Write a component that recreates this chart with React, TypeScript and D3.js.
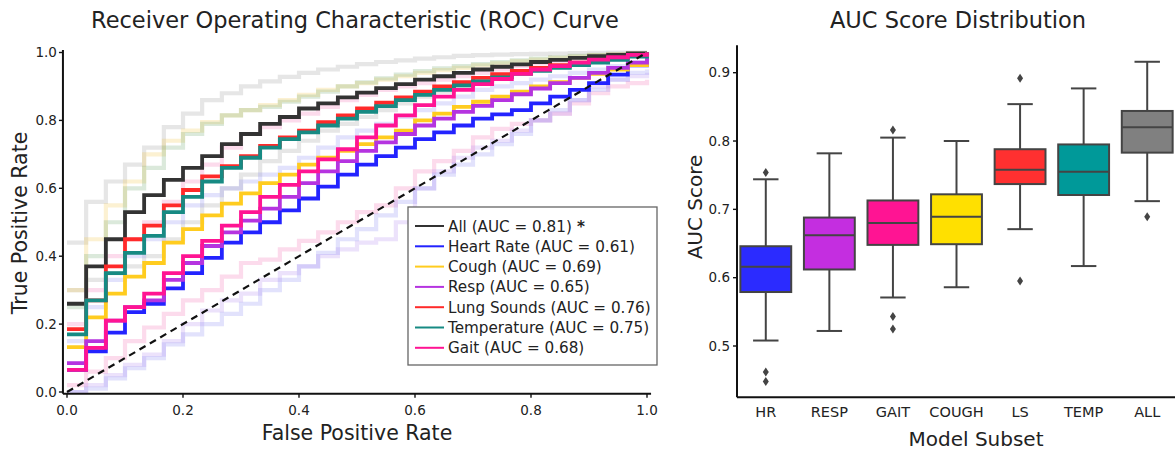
import React from "react";
import * as d3 from "d3";

// ROC curves on a shared FPR grid
const fprGrid = [0, 0.033, 0.067, 0.1, 0.133, 0.167, 0.2, 0.233, 0.267, 0.3, 0.333, 0.367, 0.4, 0.433, 0.467, 0.5, 0.533, 0.567, 0.6, 0.633, 0.667, 0.7, 0.733, 0.767, 0.8, 0.833, 0.867, 0.9, 0.933, 0.967, 1.0];

const allTpr = [0.26, 0.37, 0.45, 0.53, 0.58, 0.625, 0.66, 0.695, 0.73, 0.76, 0.79, 0.81, 0.835, 0.85, 0.868, 0.882, 0.895, 0.907, 0.92, 0.93, 0.94, 0.95, 0.958, 0.965, 0.972, 0.978, 0.984, 0.989, 0.993, 0.997, 1.0];
const hrTpr = [0.065, 0.12, 0.175, 0.235, 0.26, 0.305, 0.35, 0.395, 0.44, 0.47, 0.5, 0.535, 0.57, 0.605, 0.64, 0.67, 0.695, 0.72, 0.745, 0.765, 0.785, 0.805, 0.818, 0.83, 0.85, 0.87, 0.89, 0.91, 0.935, 0.962, 1.0];
const coughTpr = [0.132, 0.22, 0.29, 0.34, 0.38, 0.44, 0.48, 0.52, 0.555, 0.585, 0.615, 0.64, 0.67, 0.69, 0.71, 0.73, 0.75, 0.77, 0.8, 0.82, 0.84, 0.855, 0.87, 0.885, 0.9, 0.913, 0.925, 0.937, 0.95, 0.963, 1.0];
const respTpr = [0.085, 0.15, 0.21, 0.25, 0.27, 0.33, 0.38, 0.43, 0.47, 0.505, 0.54, 0.575, 0.615, 0.65, 0.68, 0.71, 0.735, 0.76, 0.785, 0.805, 0.825, 0.843, 0.86, 0.877, 0.894, 0.91, 0.925, 0.94, 0.955, 0.97, 1.0];
const lsTpr = [0.185, 0.27, 0.37, 0.45, 0.49, 0.55, 0.595, 0.635, 0.665, 0.695, 0.725, 0.75, 0.77, 0.795, 0.815, 0.835, 0.852, 0.868, 0.885, 0.9, 0.913, 0.925, 0.936, 0.946, 0.955, 0.963, 0.97, 0.977, 0.984, 0.992, 1.0];
const tempTpr = [0.17, 0.27, 0.35, 0.41, 0.46, 0.53, 0.575, 0.62, 0.66, 0.69, 0.72, 0.745, 0.765, 0.785, 0.805, 0.825, 0.842, 0.86, 0.875, 0.89, 0.903, 0.915, 0.927, 0.937, 0.946, 0.955, 0.963, 0.97, 0.978, 0.988, 1.0];
const gaitTpr = [0.065, 0.13, 0.21, 0.25, 0.29, 0.35, 0.4, 0.445, 0.49, 0.53, 0.575, 0.61, 0.65, 0.685, 0.715, 0.75, 0.785, 0.815, 0.845, 0.87, 0.89, 0.907, 0.922, 0.937, 0.95, 0.96, 0.97, 0.979, 0.986, 0.993, 1.0];

// faint per-fold curves in the background
const grayUpper = [0.44, 0.56, 0.62, 0.67, 0.72, 0.78, 0.82, 0.86, 0.88, 0.9, 0.915, 0.928, 0.94, 0.95, 0.958, 0.966, 0.972, 0.977, 0.982, 0.986, 0.99, 0.992, 0.994, 0.995, 0.996, 0.997, 0.998, 0.999, 1, 1, 1];
const grayLower = [0.3, 0.33, 0.35, 0.37, 0.4, 0.45, 0.5, 0.55, 0.6, 0.64, 0.68, 0.71, 0.74, 0.77, 0.79, 0.81, 0.83, 0.85, 0.87, 0.885, 0.9, 0.915, 0.93, 0.94, 0.95, 0.96, 0.968, 0.976, 0.984, 0.992, 1];
const yellowUpper = [0.3, 0.45, 0.55, 0.62, 0.7, 0.74, 0.77, 0.795, 0.815, 0.83, 0.845, 0.86, 0.875, 0.89, 0.9, 0.91, 0.92, 0.93, 0.94, 0.948, 0.955, 0.962, 0.968, 0.974, 0.979, 0.984, 0.988, 0.992, 0.995, 0.998, 1];
const greenUpper = [0.25, 0.4, 0.5, 0.6, 0.66, 0.72, 0.76, 0.79, 0.815, 0.83, 0.84, 0.855, 0.87, 0.885, 0.9, 0.912, 0.924, 0.935, 0.945, 0.953, 0.96, 0.966, 0.972, 0.977, 0.982, 0.986, 0.99, 0.993, 0.996, 0.998, 1];
const pinkUpper = [0.2, 0.3, 0.4, 0.45, 0.5, 0.56, 0.62, 0.67, 0.72, 0.76, 0.78, 0.8, 0.82, 0.84, 0.86, 0.875, 0.89, 0.9, 0.91, 0.92, 0.93, 0.94, 0.95, 0.96, 0.968, 0.975, 0.982, 0.988, 0.993, 0.997, 1];
const blueUpper = [0.15, 0.25, 0.33, 0.4, 0.45, 0.5, 0.55, 0.58, 0.6, 0.62, 0.64, 0.66, 0.69, 0.72, 0.75, 0.77, 0.79, 0.81, 0.83, 0.85, 0.87, 0.89, 0.9, 0.91, 0.92, 0.93, 0.94, 0.95, 0.96, 0.97, 0.98];
const pinkLower = [0.02, 0.06, 0.1, 0.15, 0.19, 0.23, 0.27, 0.3, 0.34, 0.38, 0.39, 0.42, 0.445, 0.47, 0.5, 0.53, 0.55, 0.6, 0.65, 0.68, 0.71, 0.75, 0.775, 0.79, 0.8, 0.82, 0.85, 0.88, 0.9, 0.91, 0.92];
const lavenderLower = [0, 0.02, 0.05, 0.08, 0.11, 0.15, 0.2, 0.24, 0.27, 0.29, 0.33, 0.35, 0.37, 0.4, 0.42, 0.44, 0.45, 0.5, 0.6, 0.65, 0.69, 0.72, 0.74, 0.77, 0.8, 0.82, 0.86, 0.9, 0.92, 0.93, 0.94];
const blueLower = [0, 0.01, 0.04, 0.07, 0.1, 0.14, 0.17, 0.2, 0.23, 0.26, 0.3, 0.33, 0.37, 0.41, 0.45, 0.48, 0.52, 0.56, 0.6, 0.64, 0.67, 0.7, 0.73, 0.76, 0.8, 0.83, 0.86, 0.89, 0.92, 0.94, 0.95];

const rocNames = ["All", "Heart Rate", "Cough", "Resp", "Lung Sounds", "Temperature", "Gait"];
const rocAuc = ["0.81", "0.61", "0.69", "0.65", "0.76", "0.75", "0.68"];
const rocColors = ["#333333", "#2323ff", "#ffcc1f", "#b534e0", "#ff2a2a", "#178a83", "#ff1493"];
const rocSeries = [allTpr, hrTpr, coughTpr, respTpr, lsTpr, tempTpr, gaitTpr];

const faintSeries = [grayUpper, grayLower, yellowUpper, greenUpper, pinkUpper, blueUpper, pinkLower, lavenderLower, blueLower];
const faintColors = ["#9a9a9a", "#9a9a9a", "#f5c84a", "#6fa86f", "#f26fb4", "#8c8cf5", "#f26fb4", "#b48cf0", "#8c8cf5"];

// AUC box plots
const boxLabels = ["HR", "RESP", "GAIT", "COUGH", "LS", "TEMP", "ALL"];
const boxColors = ["#2b2bff", "#c42ee0", "#ff1493", "#ffe000", "#ff3030", "#009999", "#808080"];
const whiskerLow = [0.508, 0.522, 0.571, 0.586, 0.671, 0.617, 0.712];
const q1 = [0.579, 0.612, 0.648, 0.649, 0.737, 0.721, 0.783];
const median = [0.616, 0.662, 0.68, 0.689, 0.758, 0.755, 0.82];
const q3 = [0.646, 0.688, 0.713, 0.722, 0.788, 0.795, 0.844];
const whiskerHigh = [0.744, 0.782, 0.805, 0.8, 0.854, 0.877, 0.916];
const outliers = [[0.754, 0.462, 0.448], [], [0.816, 0.543, 0.525], [], [0.892, 0.595], [], [0.689]];

const rocTicks = [0, 0.2, 0.4, 0.6, 0.8, 1.0];
const aucTicks = [0.5, 0.6, 0.7, 0.8, 0.9];

const FONT = "DejaVu Sans, Verdana, sans-serif";
const TXT = "#222";

function RocPanel() {
  const x = d3.scaleLinear().domain([0, 1]).range([67, 647]);
  const y = d3.scaleLinear().domain([0, 1]).range([392, 52.5]);
  const line = d3
    .line<number>()
    .x((_, i) => x(fprGrid[i]))
    .y((d) => y(d))
    .curve(d3.curveStepAfter);

  const x0 = x(-0.007), x1 = x(1.007);
  const y0 = y(-0.005), y1 = y(1.007);
  const cx = (x0 + x1) / 2;

  return (
    <g>
      <text x={355} y={28} textAnchor="middle" fontSize={22.5} fill={TXT}>
        Receiver Operating Characteristic (ROC) Curve
      </text>

      {faintSeries.map((s, k) => (
        <path key={"f" + k} d={line(s) || ""} fill="none" stroke={faintColors[k]} strokeOpacity={0.25} strokeWidth={4.2} />
      ))}
      {rocSeries.map((s, k) => (
        <path key={"r" + k} d={line(s) || ""} fill="none" stroke={rocColors[k]} strokeWidth={3.8} strokeLinejoin="miter" />
      ))}
      <line x1={x(0)} y1={y(0)} x2={x(1)} y2={y(1)} stroke="#111" strokeWidth={2.2} strokeDasharray="7,5" />

      {/* axes */}
      <line x1={x0} y1={y0} x2={x1} y2={y0} stroke="#111" strokeWidth={2} />
      <line x1={x0} y1={y0} x2={x0} y2={y1} stroke="#111" strokeWidth={2} />
      {rocTicks.map((t) => (
        <g key={"xt" + t}>
          <line x1={x(t)} x2={x(t)} y1={y0} y2={y0 + 4} stroke="#111" strokeWidth={1.4} />
          <text x={x(t)} y={415} textAnchor="middle" fontSize={13.5} fill={TXT}>{t.toFixed(1)}</text>
        </g>
      ))}
      {rocTicks.map((t) => (
        <g key={"yt" + t}>
          <line x1={x0 - 4} x2={x0} y1={y(t)} y2={y(t)} stroke="#111" strokeWidth={1.4} />
          <text x={x0 - 6} y={y(t) + 4.5} textAnchor="end" fontSize={13.5} fill={TXT}>{t.toFixed(1)}</text>
        </g>
      ))}
      <text x={cx} y={440} textAnchor="middle" fontSize={20.5} fill={TXT}>False Positive Rate</text>
      <text transform={`translate(27,223) rotate(-90)`} textAnchor="middle" fontSize={20.5} fill={TXT}>True Positive Rate</text>

      {/* legend */}
      <rect x={408} y={207} width={249} height={158} fill="#fff" stroke="#666" strokeWidth={1.3} />
      {rocNames.map((n, k) => {
        const ly = 226 + k * 20.3;
        return (
          <g key={"lg" + k}>
            <line x1={415} x2={444} y1={ly} y2={ly} stroke={rocColors[k]} strokeWidth={2} />
            <text x={448} y={ly + 5.5} fontSize={15.2} fill={TXT}>
              {`${n} (AUC = ${rocAuc[k]})`}
              {k === 0 ? <tspan fontWeight="bold">{" *"}</tspan> : null}
            </text>
          </g>
        );
      })}
    </g>
  );
}

function BoxPanel() {
  const x = d3.scaleBand<string>().domain(boxLabels).range([734, 1179]).paddingInner(0).paddingOuter(0);
  const y = d3.scaleLinear().domain([0.5, 0.9]).range([346, 72.7]);
  const bw = x.bandwidth() * 0.8;
  const cap = bw * 0.5;
  const yBottom = y(0.425);
  const yTop = y(0.94);
  const axX = 737;
  const stroke = "#444";

  return (
    <g>
      <text x={958} y={28} textAnchor="middle" fontSize={22.5} fill={TXT}>AUC Score Distribution</text>

      {boxLabels.map((lab, i) => {
        const cx = (x(lab) || 0) + x.bandwidth() / 2;
        return (
          <g key={lab}>
            <line x1={cx} x2={cx} y1={y(whiskerLow[i])} y2={y(q1[i])} stroke={stroke} strokeWidth={2} />
            <line x1={cx} x2={cx} y1={y(q3[i])} y2={y(whiskerHigh[i])} stroke={stroke} strokeWidth={2} />
            <line x1={cx - cap / 2} x2={cx + cap / 2} y1={y(whiskerLow[i])} y2={y(whiskerLow[i])} stroke={stroke} strokeWidth={2} />
            <line x1={cx - cap / 2} x2={cx + cap / 2} y1={y(whiskerHigh[i])} y2={y(whiskerHigh[i])} stroke={stroke} strokeWidth={2} />
            <rect x={cx - bw / 2} y={y(q3[i])} width={bw} height={y(q1[i]) - y(q3[i])} fill={boxColors[i]} stroke={stroke} strokeWidth={2} />
            <line x1={cx - bw / 2} x2={cx + bw / 2} y1={y(median[i])} y2={y(median[i])} stroke={stroke} strokeWidth={2} />
            {outliers[i].map((o, j) => (
              <path key={j} d={`M${cx},${y(o) - 4.5}L${cx + 3},${y(o)}L${cx},${y(o) + 4.5}L${cx - 3},${y(o)}Z`} fill={stroke} />
            ))}
            <text x={cx} y={417} textAnchor="middle" fontSize={14.5} fill={TXT}>{lab}</text>
          </g>
        );
      })}

      <line x1={axX} y1={yBottom} x2={1175} y2={yBottom} stroke="#111" strokeWidth={2} />
      <line x1={axX} y1={yBottom} x2={axX} y2={yTop} stroke="#111" strokeWidth={2} />
      {aucTicks.map((t) => (
        <g key={"at" + t}>
          <line x1={axX - 4} x2={axX} y1={y(t)} y2={y(t)} stroke="#111" strokeWidth={1.4} />
          <text x={axX - 7} y={y(t) + 4.5} textAnchor="end" fontSize={13.5} fill={TXT}>{t.toFixed(1)}</text>
        </g>
      ))}
      <text x={976} y={446} textAnchor="middle" fontSize={20} fill={TXT}>Model Subset</text>
      <text transform={`translate(702,207) rotate(-90)`} textAnchor="middle" fontSize={20} fill={TXT}>AUC Score</text>
    </g>
  );
}

export default function App() {
  return (
    <svg
      width={1175}
      height={450}
      style={{ position: "absolute", left: 0, top: 0, background: "#fff" }}
      fontFamily={FONT}
    >
      <rect width={1175} height={450} fill="#fff" />
      <RocPanel />
      <BoxPanel />
    </svg>
  );
}
